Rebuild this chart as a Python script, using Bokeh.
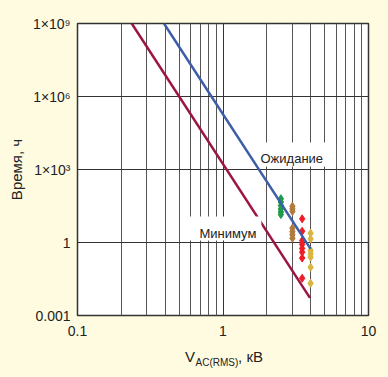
from bokeh.plotting import figure
from bokeh.models import FixedTicker, CustomJSTickFormatter, Label, LogAxis
from bokeh.embed import file_html
from bokeh.resources import INLINE

# ---- data ----
x_major = [0.1, 1, 10]
x_minor = [0.2, 0.3, 0.4, 0.5, 0.6, 0.7, 0.8, 0.9, 2, 3, 4, 5, 6, 7, 8, 9]
x_tick_labels = ["0.1", "1", "10"]
y_major = [0.001, 1, 1e3, 1e6, 1e9]
y_tick_labels = ["0.001", "1", "1×10³", "1×10⁶", "1×10⁹"]

expect_v = [0.393, 4.0]
expect_t = [1e9, 0.55]
minimum_v = [0.236, 3.96]
minimum_t = [1e9, 0.0053]

green_v = [2.5, 2.5, 2.5, 2.5, 2.5, 2.5]
green_t = [63, 46, 33, 24, 18, 14]
brown_v = [3.0, 3.0, 3.0, 3.0, 3.0, 3.0, 3.0]
brown_t = [31, 24, 19, 3.9, 2.8, 2.1, 1.5]
red_v = [3.5, 3.5, 3.5, 3.5, 3.5, 3.5, 3.5, 3.5]
red_t = [9.4, 2.9, 1.2, 0.83, 0.57, 0.40, 0.23, 0.034]
gold_v = [4.0, 4.0, 4.0, 4.0, 4.0, 4.0, 4.0]
gold_t = [2.4, 1.4, 0.47, 0.34, 0.25, 0.096, 0.021]

# x-axis title pieces: "V" + subscript "AC(RMS)" + ", кВ"
xtitle_main = ["V", ", кВ"]
xtitle_sub = ["AC(RMS)"]

CREAM = "#FFFBE1"
FONT = "Liberation Sans"
TXT = "#222222"

p = figure(width=388, height=377, x_axis_type="log", y_axis_type="log",
           x_range=(0.1, 10), y_range=(0.001, 1e9),
           output_backend="svg", toolbar_location=None,
           min_border_left=77, min_border_right=20,
           min_border_top=23, min_border_bottom=62)
p.background_fill_color = "white"
p.border_fill_color = CREAM
p.outline_line_color = "#333333"
p.outline_line_width = 1.5

fmt_code = """
let best = 0, bd = 1e9;
for (let i = 0; i < tvals.length; i++) {
  const d = Math.abs(Math.log10(tvals[i]) - Math.log10(tick));
  if (d < bd) { bd = d; best = i; }
}
return tlabs[best];
"""

def style_axis(ax, size, standoff):
    ax.axis_line_color = None
    ax.major_tick_line_color = None
    ax.minor_tick_line_color = None
    ax.major_tick_out = 0
    ax.minor_tick_out = 0
    ax.major_tick_in = 0
    ax.minor_tick_in = 0
    ax.major_label_text_font = FONT
    ax.major_label_text_font_size = size
    ax.major_label_text_color = TXT
    ax.major_label_standoff = standoff

p.xaxis.ticker = FixedTicker(ticks=x_major, minor_ticks=x_minor)
p.xaxis.formatter = CustomJSTickFormatter(args=dict(tvals=x_major, tlabs=x_tick_labels), code=fmt_code)
p.yaxis.ticker = FixedTicker(ticks=y_major, minor_ticks=[])
p.yaxis.formatter = CustomJSTickFormatter(args=dict(tvals=y_major, tlabs=y_tick_labels), code=fmt_code)
style_axis(p.xaxis[0], "14px", 10)
style_axis(p.yaxis[0], "14px", 7)

p.yaxis.axis_label = "Время, ч"
p.yaxis.axis_label_text_font = FONT
p.yaxis.axis_label_text_font_size = "15px"
p.yaxis.axis_label_text_font_style = "normal"
p.yaxis.axis_label_text_color = TXT
p.yaxis.axis_label_standoff = 5

# x-axis title built from two extra label-only axes (positions along the frame)
main_pos = [0.593, 1.546]
sub_pos = [0.908]
ax_main = LogAxis(ticker=FixedTicker(ticks=main_pos, minor_ticks=[]),
                  formatter=CustomJSTickFormatter(args=dict(tvals=main_pos, tlabs=xtitle_main), code=fmt_code))
style_axis(ax_main, "15px", 9)
p.add_layout(ax_main, "below")
ax_sub = LogAxis(ticker=FixedTicker(ticks=sub_pos, minor_ticks=[]),
                 formatter=CustomJSTickFormatter(args=dict(tvals=sub_pos, tlabs=xtitle_sub), code=fmt_code))
style_axis(ax_sub, "10px", -11)
p.add_layout(ax_sub, "below")

p.xgrid.grid_line_color = "#333333"
p.xgrid.grid_line_width = 1
p.xgrid.minor_grid_line_color = "#555555"
p.xgrid.minor_grid_line_width = 1
p.ygrid.grid_line_color = "#333333"
p.ygrid.grid_line_width = 1

# scatter
for vx, vy, col in [(green_v, green_t, "#1E9B48"), (brown_v, brown_t, "#B07B3C"),
                    (red_v, red_t, "#EE1C25"), (gold_v, gold_t, "#D9B640")]:
    p.scatter(vx, vy, marker="diamond", size=8, color=col)

p.line(minimum_v, minimum_t, line_color="#9B1446", line_width=2.5)
p.line(expect_v, expect_t, line_color="#3D5DA8", line_width=2.5)

# line labels on white boxes (anchor = top-left corner of the padded box)
p.add_layout(Label(x=1.754, y=12880, text="Ожидание", text_font=FONT, text_font_size="13px",
                   text_align="left", text_baseline="top", text_color=TXT,
                   background_fill_color="white",
                   padding=dict(left=2, right=13, top=9, bottom=0)))
p.add_layout(Label(x=0.561, y=11.7, text="Минимум", text_font=FONT, text_font_size="13px",
                   text_align="left", text_baseline="top", text_color=TXT,
                   background_fill_color="white",
                   padding=dict(left=13, right=5, top=9, bottom=0)))

html = file_html(p, INLINE)
html = html.replace("</head>", "<style>body{background:%s;}</style></head>" % CREAM, 1)
open("out.html", "w").write(html)
